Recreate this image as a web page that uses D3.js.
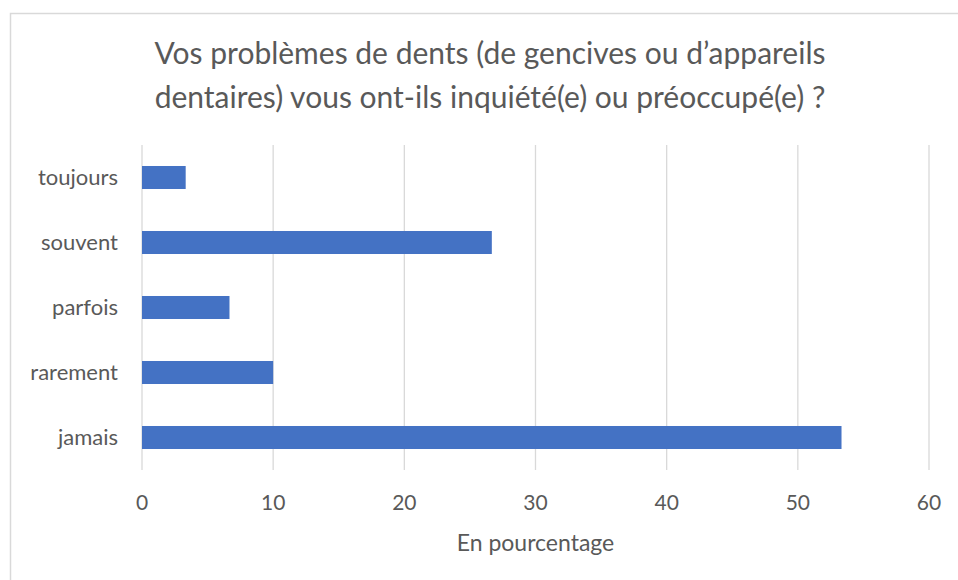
<!DOCTYPE html>
<html>
<head>
<meta charset="utf-8">
<script src="https://cdn.jsdelivr.net/npm/d3@7"></script>
<style>
  body { margin: 0; background: #fff; }
  text { font-family: Lato, "Open Sans", sans-serif; fill: #595959; }
</style>
</head>
<body>
<svg id="chart" width="958" height="580"></svg>
<script>
// Data (percent)
const categories = ['toujours', 'souvent', 'parfois', 'rarement', 'jamais'];
const values = [3.33, 26.67, 6.67, 10, 53.33];
const xTicks = [0, 10, 20, 30, 40, 50, 60];
const titleLines = ['Vos problèmes de dents (de gencives ou d\u2019appareils', 'dentaires) vous ont-ils inquiété(e) ou préoccupé(e) ?'];
const xLabel = 'En pourcentage';

const svg = d3.select('#chart');

// chart frame
svg.append('rect')
  .attr('x', 10.5).attr('y', 13.5)
  .attr('width', 1000).attr('height', 1000)
  .attr('fill', 'none')
  .attr('stroke', '#d9d9d9')
  .attr('stroke-width', 1.5);

const plot = { left: 142, right: 929, top: 145, bottom: 470 };

const x = d3.scaleLinear().domain([0, 60]).range([plot.left, plot.right]);
const y = d3.scaleBand().domain(categories).range([plot.top, plot.bottom]).paddingInner(0.646).paddingOuter(0.323);

// gridlines
svg.append('g').selectAll('line')
  .data(xTicks)
  .enter().append('line')
  .attr('x1', d => x(d)).attr('x2', d => x(d))
  .attr('y1', plot.top).attr('y2', plot.bottom)
  .attr('stroke', '#d9d9d9')
  .attr('stroke-width', 1.3);

// bars
svg.append('g').selectAll('rect')
  .data(values)
  .enter().append('rect')
  .attr('x', x(0))
  .attr('y', (d, i) => y(categories[i]))
  .attr('width', d => x(d) - x(0))
  .attr('height', y.bandwidth())
  .attr('fill', '#4472c4');

// tick labels
svg.append('g').selectAll('text')
  .data(xTicks)
  .enter().append('text')
  .attr('x', d => x(d))
  .attr('y', 503)
  .attr('dy', '0.35em')
  .attr('text-anchor', 'middle')
  .style('font-size', '21px')
  .text(d => d);

svg.append('g').selectAll('text')
  .data(categories)
  .enter().append('text')
  .attr('x', 118)
  .attr('y', d => y(d) + y.bandwidth() / 2)
  .attr('dy', '0.35em')
  .attr('text-anchor', 'end')
  .style('font-size', '22px')
  .text(d => d);

// axis title
svg.append('text')
  .attr('x', (plot.left + plot.right) / 2)
  .attr('y', 543)
  .attr('dy', '0.35em')
  .attr('text-anchor', 'middle')
  .style('font-size', '23px')
  .text(xLabel);

// chart title
svg.append('g').selectAll('text')
  .data(titleLines)
  .enter().append('text')
  .attr('x', 490)
  .attr('y', (d, i) => 53 + i * 44)
  .attr('dy', '0.35em')
  .attr('text-anchor', 'middle')
  .style('font-size', '30px')
  .text(d => d);
</script>
</body>
</html>
